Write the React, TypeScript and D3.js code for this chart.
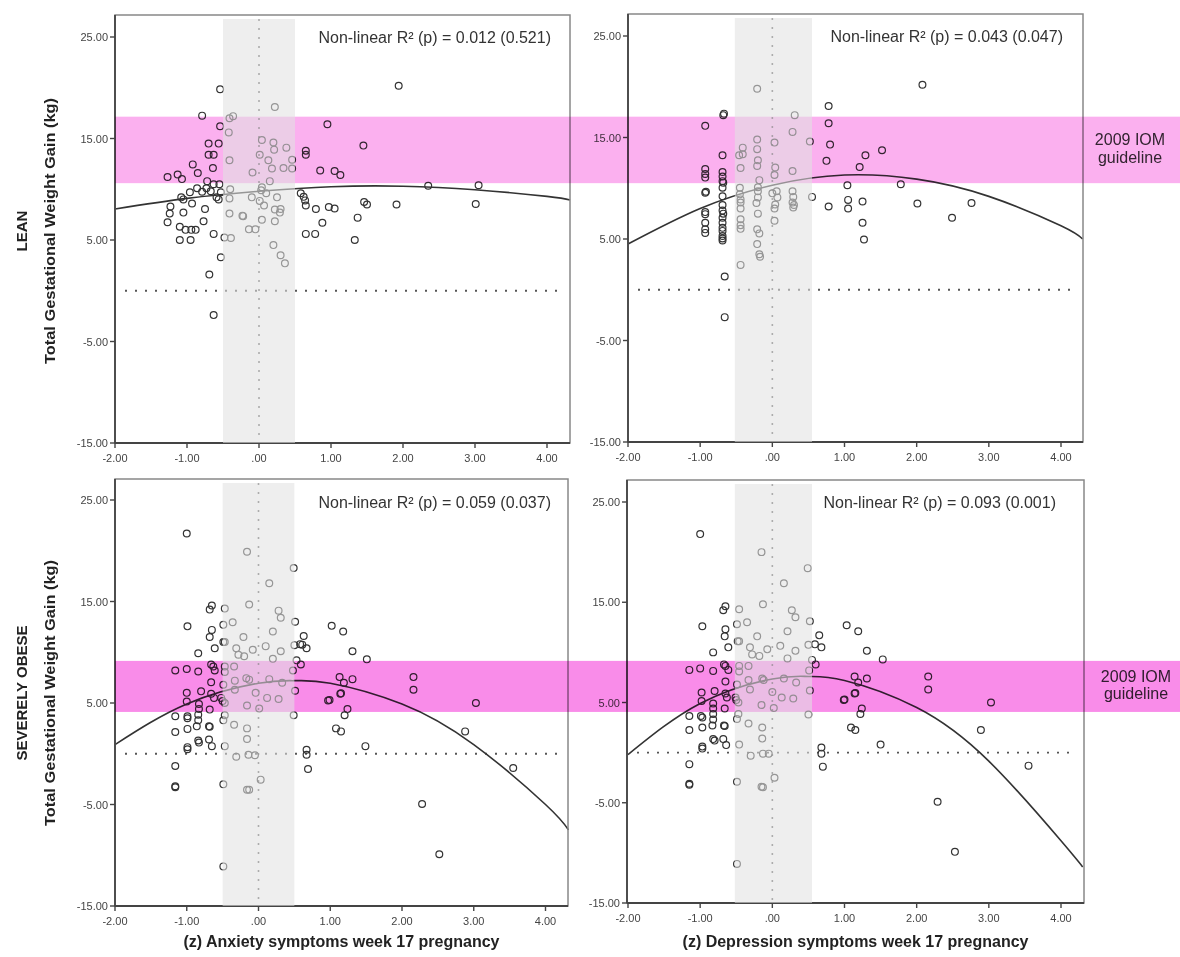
import React from 'react';
import * as d3 from 'd3';

// tick values and labels (SPSS style)
const xTickValues = [-2, -1, 0, 1, 2, 3, 4];
const xTickLabels = ['-2.00', '-1.00', '.00', '1.00', '2.00', '3.00', '4.00'];
const yTickValues = [25, 15, 5, -5, -15];
const yTickLabels = ['25.00', '15.00', '5.00', '-5.00', '-15.00'];

const rowLabels = ['LEAN', 'SEVERELY OBESE'];
const yAxisTitle = 'Total Gestational Weight Gain (kg)';
const xAxisTitles = ['(z) Anxiety symptoms week 17 pregnancy', '(z) Depression symptoms week 17 pregnancy'];
const fitLabels = [
  'Non-linear R\u00B2 (p) = 0.012 (0.521)',
  'Non-linear R\u00B2 (p) = 0.043 (0.047)',
  'Non-linear R\u00B2 (p) = 0.059 (0.037)',
  'Non-linear R\u00B2 (p) = 0.093 (0.001)',
];
const guidelineLines = ['2009 IOM', 'guideline'];

// IOM guideline ranges (kg) and the +-0.5 SD band on x
const leanGuideline = [10.6, 17.15];
const obeseGuideline = [4.12, 9.15];
const anxietyBand = [-0.5, 0.5];
const depressionBand = [-0.52, 0.55];

// [z score, weight gain]
const leanAnxietyPoints = [
  [-0.54, 19.85], [1.94, 20.2], [0.22, 18.1], [-0.79, 17.25], [-0.41, 17.0], [-0.36, 17.2], [-0.54, 16.2], [0.95, 16.4],
  [-0.42, 15.6], [-0.7, 14.5], [-0.56, 14.5], [0.04, 14.85], [0.2, 14.6], [0.21, 13.9], [0.38, 14.1], [1.45, 14.3],
  [0.65, 13.8], [0.65, 13.4], [-0.7, 13.4], [-0.63, 13.4], [0.01, 13.4], [0.13, 12.85], [-0.41, 12.85], [0.46, 12.9],
  [-0.92, 12.45], [-0.64, 12.1], [0.18, 12.05], [0.34, 12.1], [0.46, 12.05], [0.85, 11.85], [1.05, 11.8], [1.13, 11.4],
  [-0.85, 11.6], [-1.27, 11.2], [-1.13, 11.45], [-1.07, 11.0], [-0.09, 11.65], [0.15, 10.8], [-0.72, 10.8], [-0.63, 10.5],
  [-0.55, 10.5], [-0.86, 10.1], [-0.73, 10.1], [-0.4, 10.0], [0.04, 10.2], [0.03, 9.9], [-0.96, 9.7], [-0.79, 9.75],
  [-0.67, 9.8], [-0.53, 9.7], [-1.08, 9.2], [-1.05, 9.0], [-0.59, 9.2], [-0.56, 9.0], [-0.41, 9.1], [-0.1, 9.2],
  [0.1, 9.6], [0.25, 9.2], [0.58, 9.6], [0.62, 9.25], [0.64, 8.9], [0.65, 8.4], [0.01, 8.85], [0.07, 8.4],
  [-0.93, 8.6], [-1.23, 8.3], [-1.24, 7.6], [-0.75, 8.05], [0.22, 8.0], [0.3, 8.05], [0.29, 7.7], [0.79, 8.05],
  [0.97, 8.25], [1.05, 8.1], [1.46, 8.75], [1.5, 8.5], [1.91, 8.5], [3.01, 8.55], [2.35, 10.35], [3.05, 10.4],
  [-1.05, 7.7], [-0.41, 7.6], [-0.23, 7.4], [-0.22, 7.35], [-1.27, 6.75], [-0.77, 6.85], [0.04, 7.0], [0.22, 6.85],
  [0.88, 6.7], [1.37, 7.2], [-1.1, 6.3], [-1.02, 6.0], [-0.94, 6.0], [-0.88, 6.0], [-0.14, 6.05], [-0.05, 6.05],
  [-0.63, 5.6], [0.65, 5.6], [0.78, 5.6], [-1.1, 5.0], [-0.95, 5.0], [-0.48, 5.25], [-0.39, 5.2], [1.33, 5.0],
  [0.2, 4.5], [-0.53, 3.3], [0.3, 3.5], [0.36, 2.7], [-0.69, 1.6], [-0.63, -2.4],
];

const leanDepressionPoints = [
  [-0.21, 19.8], [2.08, 20.2], [0.78, 18.1], [-0.68, 17.2], [-0.67, 17.35], [0.31, 17.2], [-0.93, 16.15], [0.78, 16.4],
  [0.28, 15.55], [0.52, 14.6], [-0.21, 14.8], [-0.21, 13.85], [0.03, 14.5], [-0.41, 14.0], [0.8, 14.3], [1.52, 13.75],
  [-0.69, 13.25], [-0.46, 13.25], [-0.41, 13.35], [-0.2, 12.75], [-0.21, 12.2], [1.29, 13.25], [0.75, 12.7], [1.21, 12.1],
  [-0.44, 12.0], [0.04, 12.05], [0.03, 11.3], [0.28, 11.7], [-0.93, 11.9], [-0.93, 11.4], [-0.93, 11.05], [-0.69, 11.6],
  [-0.69, 11.15], [-0.69, 10.7], [-0.68, 10.55], [-0.18, 10.8], [-0.45, 10.05], [-0.45, 9.4], [-0.44, 8.9], [-0.44, 8.6],
  [-0.2, 10.1], [-0.2, 9.7], [-0.2, 9.1], [-0.22, 8.55], [0.0, 9.5], [0.06, 9.7], [0.07, 9.1], [0.04, 8.4],
  [0.03, 8.0], [0.28, 9.7], [0.29, 9.15], [0.28, 8.6], [0.3, 8.35], [0.29, 8.1], [0.55, 9.15], [-0.93, 9.55],
  [-0.92, 9.65], [-0.69, 10.05], [-0.69, 9.2], [-0.69, 8.35], [-0.69, 7.8], [-0.68, 7.5], [-0.69, 7.1], [-0.69, 6.6],
  [-0.69, 6.1], [-0.69, 5.8], [-0.69, 5.3], [-0.69, 5.05], [-0.69, 4.85], [-0.93, 7.65], [-0.93, 7.45], [-0.93, 6.6],
  [-0.93, 5.95], [-0.93, 5.6], [-0.44, 8.0], [-0.44, 6.95], [-0.44, 6.35], [-0.44, 6.0], [-0.2, 7.5], [-0.21, 5.95],
  [-0.18, 5.55], [0.03, 6.8], [-0.21, 4.5], [-0.18, 3.5], [-0.17, 3.25], [-0.44, 2.45], [-0.66, 1.3], [-0.66, -2.7],
  [0.78, 8.2], [1.04, 10.3], [1.05, 8.85], [1.05, 8.0], [1.25, 8.7], [1.25, 6.6], [1.27, 4.95], [1.78, 10.4],
  [2.01, 8.5], [2.49, 7.1], [2.76, 8.55],
];

const obeseAnxietyPoints = [
  [-1.0, 21.7], [-0.16, 19.9], [0.49, 18.3], [0.15, 16.8], [-0.65, 14.6], [-0.68, 14.2], [-0.47, 14.3], [-0.13, 14.7],
  [0.28, 14.1], [0.31, 13.4], [-0.99, 12.55], [0.51, 13.0], [-0.49, 12.7], [-0.36, 12.95], [-0.65, 12.2], [-0.68, 11.5],
  [1.02, 12.6], [1.18, 12.05], [-0.21, 11.5], [0.2, 12.05], [0.63, 11.6], [0.58, 10.8], [0.61, 10.75], [0.67, 10.4],
  [-0.49, 11.0], [-0.47, 11.0], [-0.31, 10.4], [-0.61, 10.4], [0.1, 10.6], [-0.08, 10.25], [0.5, 10.7], [0.31, 10.1],
  [-0.84, 9.9], [-0.28, 9.75], [-0.2, 9.6], [0.2, 9.35], [1.31, 10.1], [1.51, 9.3], [0.53, 9.2], [0.59, 8.8],
  [-1.16, 8.2], [-1.0, 8.35], [-0.84, 8.1], [-0.66, 8.8], [-0.63, 8.6], [-0.61, 8.2], [-0.47, 8.6], [-0.47, 8.05],
  [-0.34, 8.6], [0.48, 8.2], [-1.0, 6.0], [-1.0, 5.15], [-0.8, 6.15], [-0.66, 7.05], [-0.66, 5.9], [-0.49, 6.8],
  [-0.33, 7.2], [-0.33, 6.3], [-0.17, 7.45], [-0.13, 7.3], [-0.04, 6.0], [0.15, 7.35], [0.33, 7.0], [0.51, 6.2],
  [1.13, 7.55], [1.19, 7.0], [1.31, 7.35], [1.14, 5.9], [1.15, 5.95], [0.97, 5.25], [0.99, 5.3], [1.24, 4.4],
  [1.2, 3.8], [2.16, 7.55], [2.16, 6.3], [3.03, 5.0], [-0.62, 5.5], [-0.52, 5.5], [-0.5, 5.2], [-0.83, 4.9],
  [-0.83, 4.4], [-0.68, 4.35], [-0.47, 5.0], [-0.16, 4.75], [0.01, 4.45], [0.12, 5.5], [0.28, 5.4], [-1.16, 3.7],
  [-0.99, 3.7], [-0.99, 3.5], [-0.84, 3.85], [-0.84, 3.3], [-0.47, 3.8], [-0.49, 3.3], [0.49, 3.8], [-1.16, 2.15],
  [-0.99, 2.45], [-0.69, 2.7], [-0.68, 2.65], [-0.86, 2.7], [-0.34, 2.85], [-0.16, 2.5], [-0.16, 1.45], [1.08, 2.5],
  [1.15, 2.2], [2.88, 2.2], [-0.84, 1.3], [-0.83, 1.1], [-0.69, 1.4], [-0.65, 0.75], [-0.99, 0.65], [-0.99, 0.45],
  [-0.47, 0.75], [-0.31, -0.3], [-0.14, -0.1], [-0.05, -0.15], [0.67, 0.4], [0.67, -0.1], [1.49, 0.75], [0.69, -1.5],
  [-1.16, -1.2], [3.55, -1.4], [-0.49, -3.0], [0.03, -2.55], [-1.16, -3.2], [-1.16, -3.3], [-0.16, -3.55], [-0.13, -3.55],
  [2.28, -4.95], [2.52, -9.9], [-0.49, -11.1],
];

const obeseDepressionPoints = [
  [-1.0, 21.8], [-0.15, 20.0], [0.49, 18.4], [0.16, 16.9], [-0.65, 14.6], [-0.68, 14.2], [-0.46, 14.3], [-0.13, 14.8],
  [0.27, 14.2], [0.32, 13.5], [-0.97, 12.6], [0.52, 13.1], [-0.49, 12.8], [-0.35, 13.0], [-0.65, 12.3], [-0.66, 11.6],
  [1.03, 12.7], [1.19, 12.1], [-0.21, 11.6], [0.21, 12.1], [0.65, 11.7], [0.59, 10.8], [0.68, 10.5], [-0.48, 11.1],
  [-0.46, 11.1], [-0.31, 10.5], [-0.61, 10.5], [0.11, 10.65], [-0.07, 10.3], [0.5, 10.75], [0.32, 10.15], [-0.82, 10.0],
  [-0.28, 9.8], [-0.18, 9.65], [0.21, 9.4], [1.31, 10.15], [1.53, 9.3], [0.55, 9.25], [0.6, 8.8], [-1.15, 8.25],
  [-1.0, 8.4], [-0.82, 8.15], [-0.67, 8.8], [-0.65, 8.65], [-0.61, 8.25], [-0.46, 8.65], [-0.46, 8.1], [-0.33, 8.65],
  [0.51, 8.2], [-0.98, 6.0], [-0.98, 5.15], [-0.8, 6.15], [-0.65, 7.1], [-0.65, 5.9], [-0.49, 6.8], [-0.33, 7.25],
  [-0.31, 6.3], [-0.14, 7.4], [-0.12, 7.25], [0.0, 6.05], [0.16, 7.4], [0.33, 7.0], [0.52, 6.2], [1.14, 7.6],
  [1.19, 7.0], [1.31, 7.4], [1.14, 5.9], [1.15, 5.95], [0.99, 5.25], [1.0, 5.3], [1.24, 4.4], [1.22, 3.85],
  [2.16, 7.6], [2.16, 6.3], [3.03, 5.0], [-0.63, 5.5], [-0.51, 5.5], [-0.5, 5.25], [-0.82, 4.9], [-0.82, 4.4],
  [-0.66, 4.4], [-0.47, 5.0], [-0.15, 4.75], [0.02, 4.45], [0.13, 5.5], [0.29, 5.4], [-1.15, 3.65], [-0.99, 3.65],
  [-0.97, 3.5], [-0.82, 3.85], [-0.82, 3.3], [-0.47, 3.85], [-0.49, 3.35], [0.5, 3.8], [-1.15, 2.25], [-0.97, 2.5],
  [-0.67, 2.7], [-0.66, 2.65], [-0.83, 2.7], [-0.33, 2.9], [-0.14, 2.5], [-0.14, 1.4], [1.09, 2.5], [1.15, 2.25],
  [2.89, 2.25], [-0.82, 1.35], [-0.8, 1.2], [-0.68, 1.35], [-0.64, 0.75], [-0.97, 0.6], [-0.97, 0.4], [-0.46, 0.8],
  [-0.3, -0.3], [-0.13, -0.1], [-0.05, -0.1], [0.68, 0.5], [0.68, -0.1], [1.5, 0.8], [0.7, -1.4], [-1.15, -1.15],
  [3.55, -1.3], [-0.49, -2.9], [0.03, -2.5], [-1.15, -3.1], [-1.15, -3.2], [-0.15, -3.4], [-0.13, -3.45], [2.29, -4.9],
  [2.53, -9.9], [-0.49, -11.1],
];

// quadratic fit lines
const leanAnxietyFit = [[-2, 8.05], [-1, 9.1], [0, 9.8], [1, 10.25], [2, 10.3], [3, 9.95], [4, 9.3], [4.32, 8.95]];
const leanDepressionFit = [[-2, 4.5], [-1, 8.0], [0, 10.3], [1, 11.3], [2, 10.9], [3, 9.2], [4, 6.3], [4.3, 5.0]];
const obeseAnxietyFit = [[-2, 0.9], [-1, 4.9], [0, 6.95], [0.5, 7.2], [1, 6.95], [2, 4.9], [3, 0.9], [4, -5.0], [4.32, -7.5]];
const obeseDepressionFit = [[-2, -0.2], [-1, 4.9], [0, 7.35], [0.5, 7.6], [1, 7.2], [2, 4.5], [3, -0.85], [4, -8.8], [4.3, -11.4]];

const FONT = '"Liberation Sans", Arial, sans-serif';
const W = 1180;
const H = 957;

const panels = [
  { points: leanAnxietyPoints, fit: leanAnxietyFit, label: fitLabels[0], band: anxietyBand,
    frame: { l: 115, r: 570, t: 15, b: 443 }, xr: [115, 547], yr: [443, 37], labelX: 551, labelY: 43 },
  { points: leanDepressionPoints, fit: leanDepressionFit, label: fitLabels[1], band: depressionBand,
    frame: { l: 628, r: 1083, t: 14, b: 442 }, xr: [628, 1061], yr: [442, 36], labelX: 1063, labelY: 42 },
  { points: obeseAnxietyPoints, fit: obeseAnxietyFit, label: fitLabels[2], band: anxietyBand,
    frame: { l: 115, r: 568, t: 479, b: 906 }, xr: [115, 545.5], yr: [906, 500], labelX: 551, labelY: 508 },
  { points: obeseDepressionPoints, fit: obeseDepressionFit, label: fitLabels[3], band: depressionBand,
    frame: { l: 627, r: 1084, t: 480, b: 903 }, xr: [628, 1061], yr: [903, 502], labelX: 1056, labelY: 508 },
];

const scalesFor = (p) => ({
  x: d3.scaleLinear().domain([-2, 4]).range(p.xr),
  y: d3.scaleLinear().domain([-15, 25]).range(p.yr),
});

const PanelBody = ({ p }) => {
  const { x, y } = scalesFor(p);
  const f = p.frame;
  const line = d3.line().x(d => x(d[0])).y(d => y(d[1])).curve(d3.curveNatural);
  return (
    <g>
      <line x1={f.l + 10} x2={f.r - 8} y1={y(0)} y2={y(0)} stroke="#555" strokeWidth={1.8} strokeDasharray="2 8" />
      <line x1={x(0)} x2={x(0)} y1={f.t + 4} y2={f.b} stroke="#666" strokeWidth={1.6} strokeDasharray="2 7" />
      {p.points.map((d, i) => (
        <circle key={i} cx={x(d[0])} cy={y(d[1])} r={3.4} fill="none" stroke="#333" strokeWidth={1.2} />
      ))}
      <path d={line(p.fit)} fill="none" stroke="#333" strokeWidth={1.6} />
      <rect x={f.l} y={f.t} width={f.r - f.l} height={f.b - f.t} fill="none" stroke="#888" strokeWidth={1.5} />
      <line x1={f.l} x2={f.l} y1={f.t} y2={f.b} stroke="#444" strokeWidth={1.8} />
      <line x1={f.l} x2={f.r} y1={f.b} y2={f.b} stroke="#444" strokeWidth={1.8} />
      {yTickValues.map((v, i) => (
        <g key={v}>
          <line x1={f.l - 5} x2={f.l} y1={y(v)} y2={y(v)} stroke="#444" strokeWidth={1.4} />
          <text x={f.l - 7} y={y(v) + 4} textAnchor="end" fontSize={11} fill="#444" fontFamily={FONT}>{yTickLabels[i]}</text>
        </g>
      ))}
      {xTickValues.map((v, i) => (
        <g key={v}>
          <line x1={x(v)} x2={x(v)} y1={f.b} y2={f.b + 5} stroke="#444" strokeWidth={1.4} />
          <text x={x(v)} y={f.b + 19} textAnchor="middle" fontSize={11} fill="#444" fontFamily={FONT}>{xTickLabels[i]}</text>
        </g>
      ))}
      <text x={p.labelX} y={p.labelY} textAnchor="end" fontSize={16} fill="#333" fontFamily={FONT}>{p.label}</text>
    </g>
  );
};

const App = () => {
  const rows = [
    { left: panels[0], guide: leanGuideline, color: '#fbb0ef', cy: 231, textX: 1130, textY: [145, 163] },
    { left: panels[2], guide: obeseGuideline, color: '#f98ce9', cy: 693, textX: 1136, textY: [682, 699] },
  ];
  return (
    <svg width={W} height={H} style={{ position: 'absolute', left: 0, top: 0 }}>
      <rect x={0} y={0} width={W} height={H} fill="#fff" />
      {panels.map((p, i) => <PanelBody key={i} p={p} />)}

      {rows.map((r, i) => (
        <g key={i} fontFamily={FONT} fontWeight="bold" fill="#222">
          <text transform={`translate(27,${r.cy}) rotate(-90)`} textAnchor="middle" fontSize={15}>{rowLabels[i]}</text>
          <text transform={`translate(55,${r.cy}) rotate(-90)`} textAnchor="middle" fontSize={15}
            textLength={266} lengthAdjust="spacingAndGlyphs">{yAxisTitle}</text>
          {guidelineLines.map((t, j) => (
            <text key={j} x={r.textX} y={r.textY[j]} textAnchor="middle" fontSize={16} fontWeight="normal" fill="#333">{t}</text>
          ))}
        </g>
      ))}
      {xAxisTitles.map((t, i) => {
        const p = panels[2 + i];
        return (
          <text key={t} x={(p.frame.l + p.frame.r) / 2} y={947} textAnchor="middle" fontSize={16}
            fontWeight="bold" fill="#222" fontFamily={FONT}>{t}</text>
        );
      })}

      {/* IOM guideline bands, multiplied over the marks */}
      {rows.map((r, i) => {
        const y = scalesFor(r.left).y;
        return (
          <rect key={i} x={r.left.frame.l} y={y(r.guide[1])} width={W - r.left.frame.l}
            height={y(r.guide[0]) - y(r.guide[1])} fill={r.color} style={{ mixBlendMode: 'multiply' }} />
        );
      })}

      {/* grey +-0.5 SD band, laid over everything */}
      {panels.map((p, i) => {
        const x = scalesFor(p).x;
        return (
          <rect key={i} x={x(p.band[0])} y={p.frame.t + 4} width={x(p.band[1]) - x(p.band[0])}
            height={p.frame.b - p.frame.t - 4} fill="#e1e1e1" fillOpacity={0.57} />
        );
      })}
    </svg>
  );
};

export default App;
